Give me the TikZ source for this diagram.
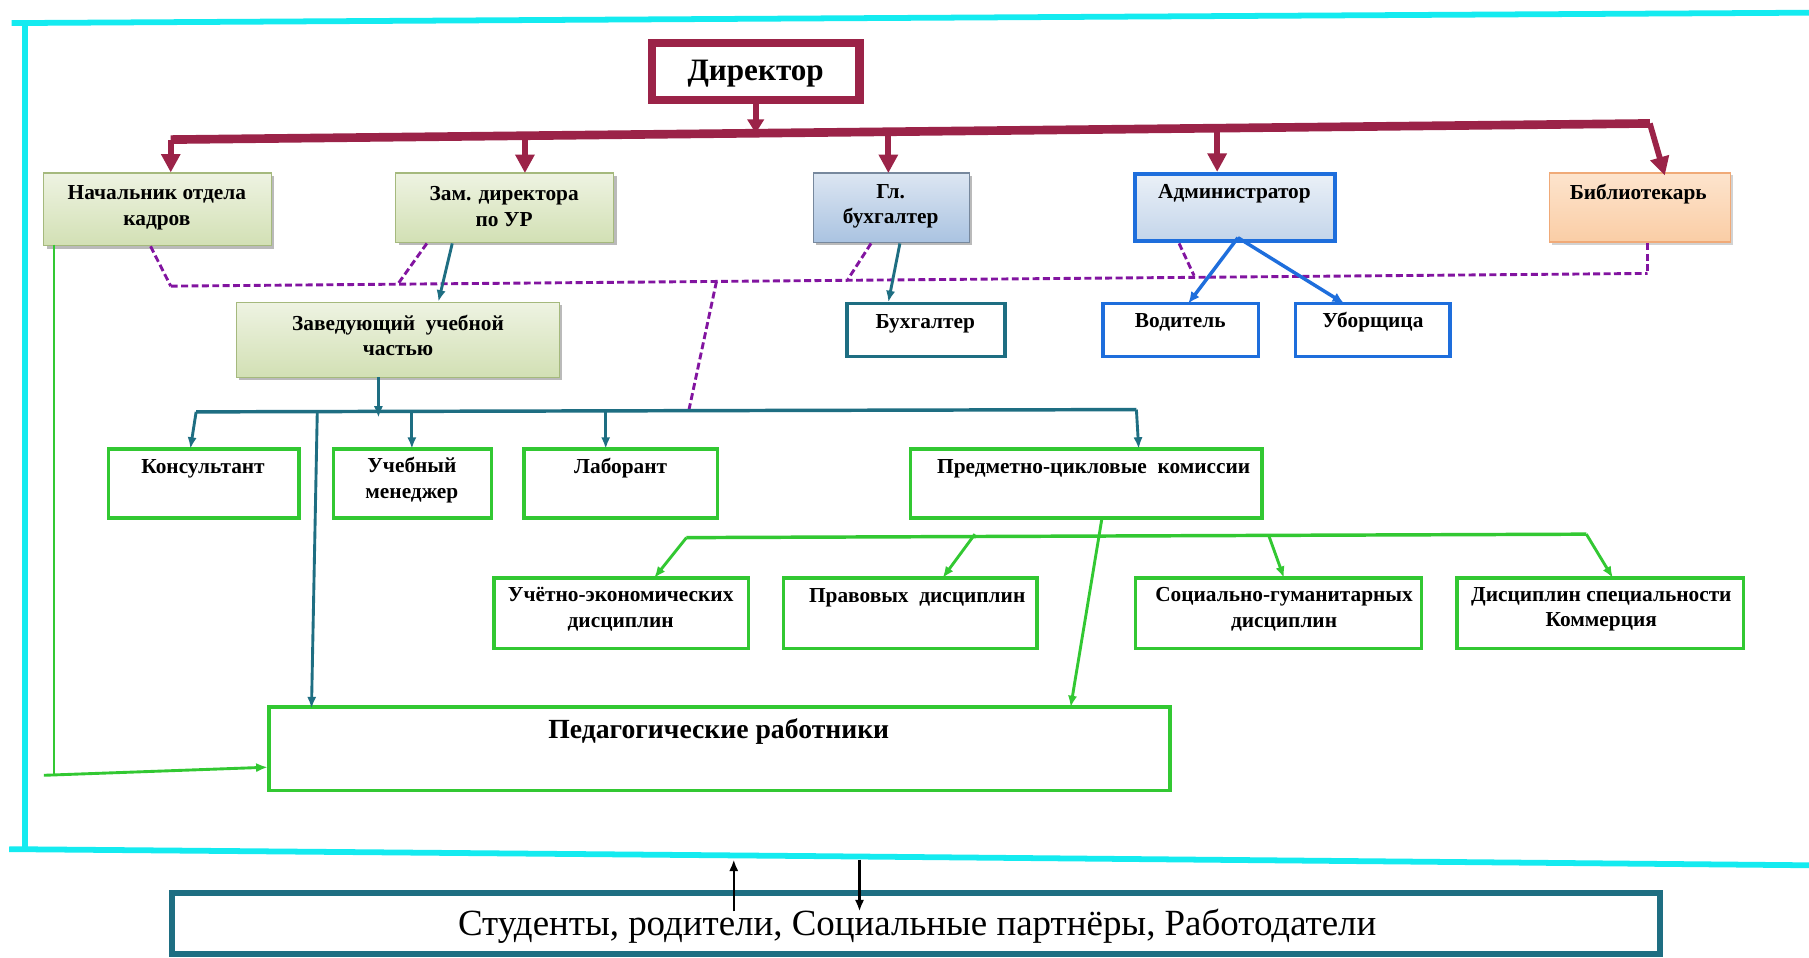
\documentclass[tikz,border=0pt]{standalone}
\usepackage{fontspec}
\setmainfont{Liberation Serif}
\usetikzlibrary{arrows.meta,shadows,calc}
\definecolor{maroon}{RGB}{155,35,72}
\definecolor{cyanf}{RGB}{20,235,240}
\definecolor{purp}{RGB}{130,20,160}
\definecolor{teal}{RGB}{30,110,130}
\definecolor{grn}{RGB}{50,200,50}
\definecolor{blu}{RGB}{30,110,220}
\definecolor{olive}{RGB}{165,185,125}
\definecolor{gtop}{RGB}{238,243,226}
\definecolor{gbot}{RGB}{210,224,180}
\definecolor{btop}{RGB}{220,230,242}
\definecolor{bbot}{RGB}{170,195,225}
\definecolor{otop}{RGB}{253,228,205}
\definecolor{obot}{RGB}{250,205,165}
\definecolor{oline}{RGB}{240,170,120}
\tikzset{
  lbl/.style={font=\bfseries\fontsize{18.5}{22}\selectfont, align=center, inner sep=0pt},
  gbox/.style={draw=olive, line width=1pt, top color=gtop, bottom color=gbot,
     drop shadow={shadow xshift=2.5pt, shadow yshift=-2.5pt, fill=black!45, opacity=0.6}},
  bgbox/.style={draw=bbot!70!black, line width=1pt, top color=btop, bottom color=bbot,
     drop shadow={shadow xshift=2.5pt, shadow yshift=-2.5pt, fill=black!45, opacity=0.6}},
  obox/.style={draw=oline, line width=1.5pt, top color=otop, bottom color=obot,
     drop shadow={shadow xshift=2pt, shadow yshift=-2pt, fill=black!35, opacity=0.5}},
  abox/.style={draw=blu, line width=3.5pt, top color=btop!60!white, bottom color=bbot!70!white},
  wbox/.style={draw=grn, line width=3pt, fill=white},
  blbox/.style={draw=blu, line width=3pt, fill=white},
  tlbox/.style={draw=teal, line width=3pt, fill=white},
  marr/.style={draw=maroon, line width=5pt, -{Triangle[length=16pt,width=16pt]}},
  mline/.style={draw=maroon, line width=7.5pt},
  tarr/.style={draw=teal, line width=2.5pt, -{Latex[length=10pt,width=8pt]}},
  garr/.style={draw=grn, line width=2.5pt, -{Latex[length=10pt,width=8pt]}},
  barr/.style={draw=blu, line width=3pt, -{Latex[length=10pt,width=9pt]}},
  pdash/.style={draw=purp, line width=2.5pt, dash pattern=on 6pt off 3pt},
  cyanline/.style={draw=cyanf, line width=5pt},
}
\begin{document}
\begin{tikzpicture}[x=1pt,y=-1pt]
\useasboundingbox (0,0) rectangle (1568,830);
\fill[white] (0,0) rectangle (1568,830);
% cyan frame
\draw[cyanline] (10,20) -- (700,16) -- (1568,11);
\draw[cyanline] (22,20) -- (22,735);
\draw[cyanline] (8,736) -- (700,742) -- (1568,750);

% boxes
\node[draw=maroon, line width=7pt, fill=white, minimum width=180pt, minimum height=50pt] (dir) at (655,62) {};
\node[font=\bfseries\fontsize{27}{32}\selectfont] (dirt) at (655,64) {Директор};

\node[gbox, minimum width=197pt, minimum height=63pt] (nach) at (136.5,181.5) {};
\node[lbl] (nacht) at (136,180) {Начальник отдела\\кадров};
\node[gbox, minimum width=189pt, minimum height=60pt] (zam) at (437.5,180) {};
\node[lbl] (zamt) at (437,179) {Зам. директора\\по УР};
\node[bgbox, minimum width=135pt, minimum height=60pt] (glb) at (772.5,180) {};
\node[lbl] (glbt) at (772,179) {Гл.\\бухгалтер};
\node[abox, minimum width=173pt, minimum height=58pt] (adm) at (1070.5,180) {};
\node[lbl] (admt) at (1070,168) {Администратор};
\node[obox, minimum width=157pt, minimum height=60pt] (bib) at (1421.5,180) {};
\node[lbl] (bibt) at (1420,168) {Библиотекарь};

\node[gbox, minimum width=280pt, minimum height=65pt] (zav) at (345,294.5) {};
\node[lbl] (zavt) at (345,291) {Заведующий\ \ учебной\\частью};
\node[tlbox, minimum width=137pt, minimum height=46pt] (buh) at (802.5,286) {};
\node[lbl] (buht) at (802,281) {Бухгалтер};
\node[blbox, minimum width=135pt, minimum height=46pt] (vod) at (1023.5,286) {};
\node[lbl] (vodt) at (1023,279) {Водитель};
\node[blbox, minimum width=134pt, minimum height=46pt] (ubo) at (1190,286) {};
\node[lbl] (ubot) at (1190,279) {Уборщица};

\node[wbox, minimum width=165pt, minimum height=60pt] (kon) at (176.5,419) {};
\node[lbl] (kont) at (176,406) {Консультант};
\node[wbox, minimum width=137pt, minimum height=60pt] (uch) at (357.5,419) {};
\node[lbl] (ucht) at (357,416) {Учебный\\менеджер};
\node[wbox, minimum width=168pt, minimum height=60pt] (lab) at (538,419) {};
\node[lbl] (labt) at (538,406) {Лаборант};
\node[wbox, minimum width=305pt, minimum height=60pt] (pck) at (941.5,419) {};
\node[lbl] (pckt) at (948,406) {Предметно-цикловые\ \ комиссии};

\node[wbox, minimum width=221pt, minimum height=61pt] (ue) at (538.5,531.5) {};
\node[lbl] (uet) at (538,528) {Учётно-экономических\\дисциплин};
\node[wbox, minimum width=220pt, minimum height=61pt] (pr) at (789,531.5) {};
\node[lbl] (prt) at (795,518) {Правовых\ \ дисциплин};
\node[wbox, minimum width=248pt, minimum height=61pt] (soc) at (1108,531.5) {};
\node[lbl] (soct) at (1113,528) {Социально-гуманитарных\\дисциплин};
\node[wbox, minimum width=248pt, minimum height=61pt] (dis) at (1387,531.5) {};
\node[lbl] (dist) at (1388,528) {Дисциплин специальности\\Коммерция};

\node[wbox, minimum width=781pt, minimum height=72pt] (ped) at (623.5,649) {};
\node[font=\bfseries\fontsize{24}{28}\selectfont] (pedt) at (623,634) {Педагогические работники};

\node[draw=teal, line width=5pt, fill=white, minimum width=1290pt, minimum height=53pt] (bot) at (794,800.5) {};
\node[font=\fontsize{32}{36}\selectfont] (bott) at (795,803) {Студенты, родители, Социальные партнёры, Работодатели};

% maroon tree
\coordinate (m0) at (148,121);
\coordinate (m5) at (1430,107);
\coordinate (mj) at (655,115.5);
\draw[mline] (m0) -- (m5);
\draw[draw=maroon, line width=5pt, -{Triangle[length=12pt,width=14pt]}] (dir.south) -- (mj);
\draw[marr] (m0) -- (m0 |- nach.north);
\draw[marr] (455,118) -- (455,150);
\draw[marr] (770,115) -- (770,150);
\draw[marr] (1055,112) -- (1055,149);
\draw[marr] (m5) -- (1443,152);

% purple dashed
\coordinate (p0) at (148,248);
\coordinate (p1) at (1428,237);
\draw[pdash] (p0) -- (p1);
\draw[pdash] ([xshift=-6pt]nach.south) -- (p0);
\draw[pdash] (370,211) -- (345,246);
\draw[pdash] (755,211) -- (735,242);
\draw[pdash] (1022,211) -- (1035,239);
\draw[pdash] (1428,211) -- (p1);
\draw[pdash] (621,244) -- (597,356);

% teal
\draw[tarr] (392,211) -- (zav.north -| 380,0);
\draw[tarr] (780,211) -- (770,262);
\coordinate (t0) at (170,357);
\coordinate (t1) at (985,355);
\draw[draw=teal, line width=3pt] (t0) -- (t1);
\draw[tarr] (328,327) -- (328,362);
\draw[tarr] (t0) -- (165,389);
\draw[tarr] (357,357) -- (357,389);
\draw[tarr] (525,356) -- (525,389);
\draw[tarr] (t1) -- (987,389);
\draw[draw=teal, line width=2.5pt, -{Latex[length=10pt,width=8pt]}] (275,357) -- (270,614);

% blue
\draw[barr] (1073,206) -- (1030,263);
\draw[barr] (1073,206) -- (1165,263);

% green
\coordinate (g0) at (595,466);
\coordinate (g1) at (1375,463);
\draw[draw=grn, line width=3pt] (g0) -- (g1);
\draw[garr] (g0) -- (567,501);
\draw[garr] (845,463) -- (817,501);
\draw[garr] (1100,465) -- (1113,501);
\draw[garr] (g1) -- (1398,501);
\draw[garr] (955,450) -- (928,613);
\draw[draw=grn, line width=1.5pt] (47,212) -- (47,672);
\draw[garr] (38,672) -- (232,665);

% bottom arrows
\draw[black, line width=2pt, -{Latex[length=10pt,width=8pt]}] (636,790) -- (636,745);
\draw[black, line width=2pt, -{Latex[length=10pt,width=8pt]}] (745,745) -- (745,790);
\end{tikzpicture}
\end{document}
